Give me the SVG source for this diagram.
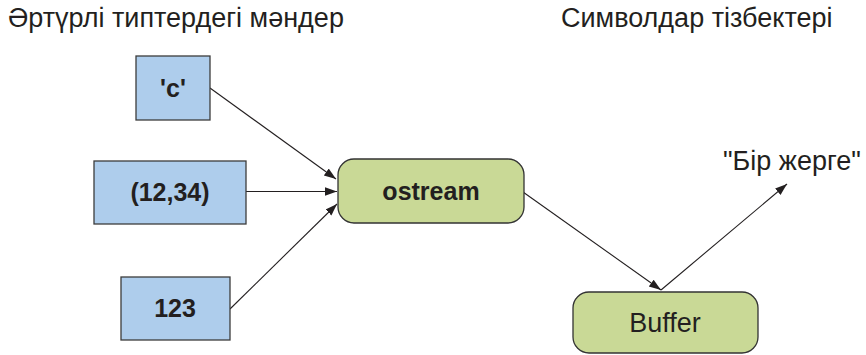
<svg xmlns="http://www.w3.org/2000/svg" width="866" height="355" viewBox="0 0 866 355">
<style>
text{font-family:"Liberation Sans",Arial,sans-serif;fill:#231f20}
.t{font-size:27px}
.b{font-size:25px;font-weight:bold;text-anchor:middle}
.r{font-size:27px;text-anchor:middle}
.blue{fill:#aecdec;stroke:#3c3c3c;stroke-width:1.3}
.green{fill:#c9d996;stroke:#333;stroke-width:1.3}
.c{stroke:#231f20;stroke-width:1.1;fill:none;marker-end:url(#ah)}
</style>
<defs>
<marker id="ah" viewBox="0 0 10 10" refX="10" refY="5" markerWidth="12" markerHeight="12" markerUnits="userSpaceOnUse" orient="auto">
<path d="M0,1.5 L10,5 L0,8.5 Z" fill="#231f20"/>
</marker>
</defs>
<rect width="866" height="355" fill="#fff"/>
<text class="t" x="8" y="27">Әртүрлі типтердегі мәндер</text>
<text class="t" x="561" y="27">Символдар тізбектері</text>
<text class="t" x="723" y="170">"Бір жерге"</text>
<g id="connectors">
<line class="c" x1="210" y1="88" x2="336" y2="179"/>
<line class="c" x1="246" y1="191.5" x2="337" y2="191.5"/>
<line class="c" x1="230" y1="309" x2="337" y2="204"/>
<line class="c" x1="523" y1="192" x2="661" y2="290"/>
<line class="c" x1="661" y1="290" x2="787" y2="184"/>
</g>
<g id="node-c">
<rect class="blue" x="136" y="56" width="74" height="64"/>
<text class="b" x="173" y="97">'c'</text>
</g>
<g id="node-pair">
<rect class="blue" x="94" y="161" width="152" height="63"/>
<text class="b" x="170" y="201">(12,34)</text>
</g>
<g id="node-123">
<rect class="blue" x="121" y="277" width="109" height="63"/>
<text class="b" x="175" y="317">123</text>
</g>
<g id="node-ostream">
<rect class="green" x="338" y="159" width="186" height="64" rx="16"/>
<text class="b" x="431" y="200">ostream</text>
</g>
<g id="node-buffer">
<rect class="green" x="573" y="292" width="185" height="61" rx="16"/>
<text class="r" x="665" y="332">Buffer</text>
</g>
</svg>
